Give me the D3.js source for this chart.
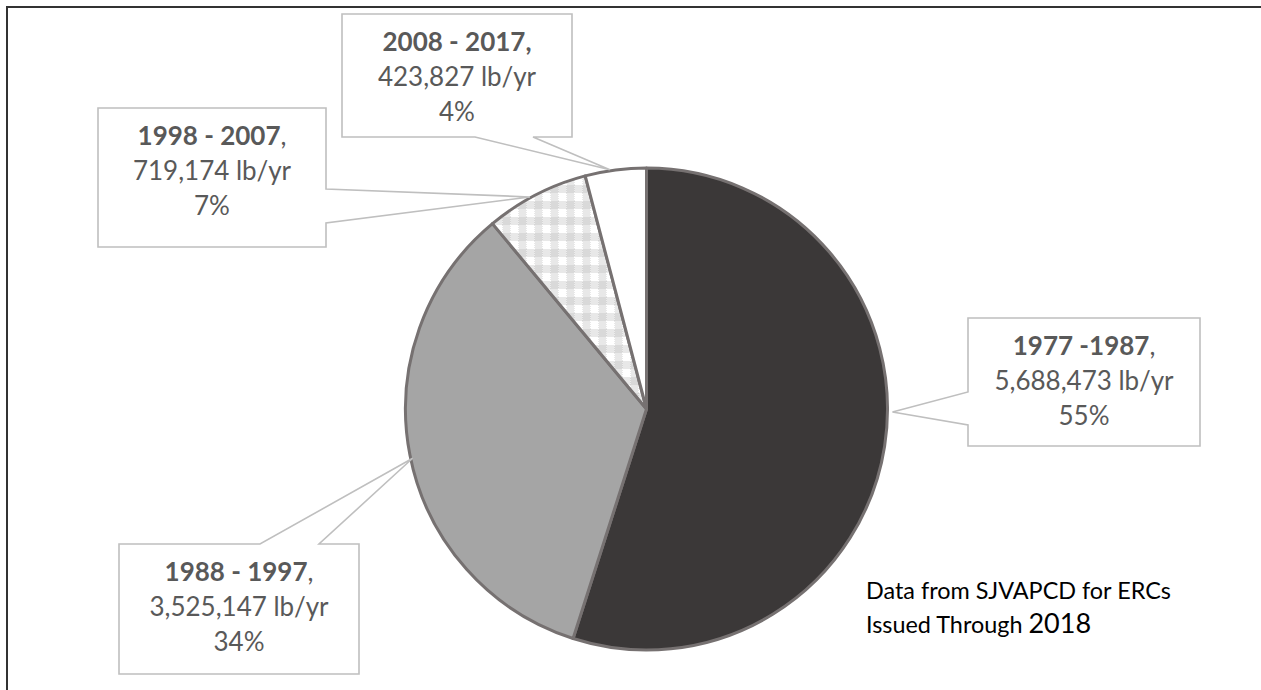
<!DOCTYPE html>
<html>
<head>
<meta charset="utf-8">
<script src="https://cdn.jsdelivr.net/npm/d3@7"></script>
<style>
  html, body { margin: 0; padding: 0; background: #fff; }
  svg { display: block; }
</style>
</head>
<body>
<svg id="chart" width="1261" height="690"></svg>
<script>
// ERC totals by issuance period
const periods = ["1977 -1987", "1988 - 1997", "1998 - 2007", "2008 - 2017"];
const emissions = [5688473, 3525147, 719174, 423827];
const commaBold = [false, false, false, true];   // "2008 - 2017," carries a bold comma
const noteLines = ["Data from SJVAPCD for ERCs", "Issued Through "];
const noteYear = "2018";

// Layout
const W = 1261, H = 690;
const cx = 646.5, cy = 409, R = 241;
const fills = ["#3b3838", "#a5a5a5", "url(#plaid)", "#ffffff"];
// callout boxes: [x0, y0, x1, y1], side of the pointer, pointer base span, tip (angle deg, radius)
const callouts = [
  { box: [968, 318, 1200, 446], side: "left",   base: [392, 425], tip: [90.7, 246] },
  { box: [119, 544, 359, 674],  side: "top",    base: [260, 319], tip: [258.1, 239] },
  { box: [98, 108, 326, 247],   side: "right",  base: [189, 223], tip: [331.2, 242] },
  { box: [342, 14, 572, 137],   side: "bottom", base: [475, 533], tip: [351.3, 242] }
];

const svg = d3.select("#chart");
const defs = svg.append("defs");

// fine 1px checker
const dots = defs.append("pattern").attr("id", "dots")
  .attr("width", 2).attr("height", 2).attr("patternUnits", "userSpaceOnUse");
dots.append("rect").attr("width", 2).attr("height", 2).attr("fill", "#fff");
dots.append("rect").attr("width", 1).attr("height", 1).attr("fill", "#d0d0d0");
dots.append("rect").attr("x", 1).attr("y", 1).attr("width", 1).attr("height", 1).attr("fill", "#d0d0d0");

// plaid tile: solid square + dithered bands
const plaid = defs.append("pattern").attr("id", "plaid")
  .attr("width", 16).attr("height", 16).attr("patternUnits", "userSpaceOnUse");
plaid.append("rect").attr("width", 16).attr("height", 16).attr("fill", "#fff");
plaid.append("rect").attr("width", 8).attr("height", 8).attr("fill", "#d9d9d9");
plaid.append("rect").attr("x", 8).attr("width", 8).attr("height", 8).attr("fill", "url(#dots)");
plaid.append("rect").attr("y", 8).attr("width", 8).attr("height", 8).attr("fill", "url(#dots)");

// outer frame
svg.append("rect").attr("x", 7).attr("y", 7).attr("width", W + 20).attr("height", H + 20)
  .attr("fill", "none").attr("stroke", "#333").attr("stroke-width", 2);

const total = d3.sum(emissions);
const pie = d3.pie().sort(null).value(d => d)(emissions);
const arc = d3.arc().innerRadius(0).outerRadius(R);

const g = svg.append("g").attr("transform", `translate(${cx},${cy})`);
g.selectAll("path.slice").data(pie).join("path")
  .attr("class", "slice")
  .attr("d", arc)
  .attr("fill", (d, i) => fills[i])
  .attr("stroke", "#767171")
  .attr("stroke-width", 3)
  .attr("stroke-linejoin", "round");

// callouts
const rad = a => a * Math.PI / 180;
const fmt = d3.format(",");
callouts.forEach((c, i) => {
  const [x0, y0, x1, y1] = c.box;
  const tx = cx + c.tip[1] * Math.sin(rad(c.tip[0]));
  const ty = cy - c.tip[1] * Math.cos(rad(c.tip[0]));
  const p = d3.path();
  p.moveTo(x0, y0);
  if (c.side === "top") { p.lineTo(c.base[0], y0); p.lineTo(tx, ty); p.lineTo(c.base[1], y0); }
  p.lineTo(x1, y0);
  if (c.side === "right") { p.lineTo(x1, c.base[0]); p.lineTo(tx, ty); p.lineTo(x1, c.base[1]); }
  p.lineTo(x1, y1);
  if (c.side === "bottom") { p.lineTo(c.base[1], y1); p.lineTo(tx, ty); p.lineTo(c.base[0], y1); }
  p.lineTo(x0, y1);
  if (c.side === "left") { p.lineTo(x0, c.base[1]); p.lineTo(tx, ty); p.lineTo(x0, c.base[0]); }
  p.closePath();
  svg.append("path").attr("d", p.toString())
    .attr("fill", "#fff").attr("stroke", "#bfbfbf").attr("stroke-width", 1.6);

  const mx = (x0 + x1) / 2;
  const t = svg.append("text")
    .attr("text-anchor", "middle")
    .attr("font-family", "Lato, 'Open Sans', sans-serif")
    .attr("font-size", 26)
    .attr("fill", "#595959");
  const l1 = t.append("tspan").attr("x", mx).attr("y", y0 + 37);
  l1.append("tspan").attr("font-weight", "bold").text(periods[i] + (commaBold[i] ? "," : ""));
  if (!commaBold[i]) l1.append("tspan").text(",");
  t.append("tspan").attr("x", mx).attr("dy", 35).text(fmt(emissions[i]) + " lb/yr");
  t.append("tspan").attr("x", mx).attr("dy", 35).text(Math.round(emissions[i] / total * 100) + "%");
});

// source note
const note = svg.append("text")
  .attr("font-family", "Lato, 'Open Sans', sans-serif")
  .attr("font-size", 23.4)
  .attr("fill", "#000");
note.append("tspan").attr("x", 866).attr("y", 599).text(noteLines[0]);
note.append("tspan").attr("x", 866).attr("y", 633).text(noteLines[1]);
note.append("tspan").attr("font-size", 27).text(noteYear);
</script>
</body>
</html>
